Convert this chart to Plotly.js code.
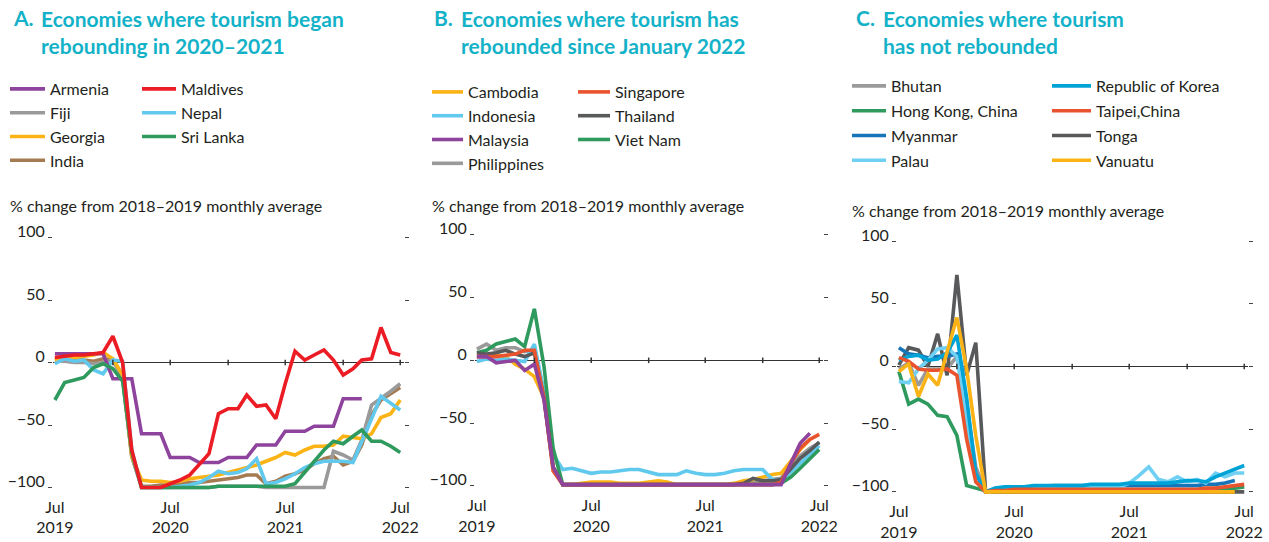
<!DOCTYPE html>
<html><head><meta charset="utf-8">
<script src="https://cdn.plot.ly/plotly-3.0.1.min.js"></script>
<style>html,body{margin:0;padding:0;background:#fff;}#chart{width:1269px;height:542px;}</style>
</head><body><div id="chart"></div>
<script>
// Months: Jul 2019 .. Jul 2022
const months = ["2019-07-01","2019-08-01","2019-09-01","2019-10-01","2019-11-01","2019-12-01",
"2020-01-01","2020-02-01","2020-03-01","2020-04-01","2020-05-01","2020-06-01",
"2020-07-01","2020-08-01","2020-09-01","2020-10-01","2020-11-01","2020-12-01",
"2021-01-01","2021-02-01","2021-03-01","2021-04-01","2021-05-01","2021-06-01",
"2021-07-01","2021-08-01","2021-09-01","2021-10-01","2021-11-01","2021-12-01",
"2022-01-01","2022-02-01","2022-03-01","2022-04-01","2022-05-01","2022-06-01","2022-07-01"];
const tickVals = ["2019-07-01","2020-07-01","2021-07-01","2022-07-01"];
const tickText = ["Jul<br>2019","Jul<br>2020","Jul<br>2021","Jul<br>2022"];
const zeroTickDates = ["2020-01-01","2020-07-01","2021-01-01","2021-07-01","2022-01-01","2022-07-01"];
const yTicks = [-100,-50,0,50,100];
const N = null;

// Panel A
const armenia  = [7,7,7,7,7,7,-13,-13,-13,-57,-57,-57,-76,-76,-76,-80,-80,-80,-76,-76,-76,-66,-66,-66,-55,-55,-55,-51,-51,-51,-29,-29,-29,N,N,N,N];
const fiji     = [1,1,0,0,-1,0,2,-12,-75,-100,-100,-100,-100,-100,-100,-100,-100,-99,-99,-99,-99,-99,-100,-100,-100,-100,-100,-100,-100,-71,-74,-78,-62,-34,-29,-23,-17];
const georgia  = [2,4,4,5,6,8,3,-10,-75,-94,-95,-95,-96,-95,-93,-92,-91,-90,-88,-86,-84,-82,-79,-76,-72,-74,-70,-67,-67,-66,-59,-60,-61,-57,-44,-41,-30];
const india    = [2,3,2,2,1,3,2,-12,-75,-99,-99,-98,-98,-97,-96,-96,-95,-94,-93,-92,-90,-90,-97,-95,-91,-89,-86,-81,-77,-75,-82,-79,-66,-42,-30,-25,-20];
const maldives = [4,5,6,6,7,8,21,0,-70,-100,-100,-100,-97,-94,-90,-82,-73,-41,-37,-37,-26,-35,-34,-45,-17,9,2,6,10,2,-10,-5,2,3,28,8,6];
const nepal    = [-1,3,1,2,-6,-9,2,1,-70,-100,-100,-100,-100,-99,-98,-96,-92,-87,-89,-88,-85,-77,-97,-96,-93,-89,-84,-81,-79,-79,-79,-80,-64,-45,-27,-33,-38];
const sriLanka = [-30,-16,-14,-12,-4,-1,-5,-15,-72,-100,-100,-100,-100,-100,-100,-100,-100,-99,-99,-99,-99,-99,-99,-99,-99,-97,-88,-79,-70,-63,-65,-59,-54,-63,-63,-67,-72];

// Panel B
const cambodia    = [3,3,4,3,-3,-7,-13,-30,-85,-99,-99,-98,-97,-97,-97,-98,-98,-98,-97,-96,-97,-99,-99,-99,-99,-99,-99,-98,-96,-95,-93,-91,-90,-80,-71,-63,N];
const indonesia   = [-1,1,0,1,0,-1,13,-25,-75,-87,-86,-88,-90,-89,-89,-88,-87,-87,-89,-91,-91,-91,-88,-90,-91,-91,-90,-88,-87,-87,-87,-95,-96,-89,-82,-75,-68];
const malaysia    = [3,3,-2,-1,0,-8,-3,-32,-85,-99,-99,-99,-99,-99,-99,-99,-99,-99,-99,-99,-99,-99,-99,-99,-99,-99,-99,-99,-99,-99,-99,-99,-99,-82,-66,-58,N];
const philippines = [9,13,8,10,10,7,8,-28,-85,-99,-99,-99,-99,-99,-99,-99,-99,-99,-99,-99,-99,-99,-99,-99,-99,-99,-99,-99,-98,-97,-96,-95,-94,-84,-76,-70,-66];
const singapore   = [3,3,3,4,5,8,8,-30,-88,-99,-99,-99,-99,-99,-99,-99,-99,-99,-99,-99,-99,-99,-99,-99,-99,-99,-99,-99,-99,-99,-99,-99,-97,-82,-70,-63,-59];
const thailand    = [6,5,6,8,5,3,6,-30,-85,-99,-99,-99,-99,-99,-99,-99,-99,-99,-99,-99,-99,-99,-99,-99,-99,-99,-99,-99,-98,-94,-96,-96,-95,-86,-78,-72,-65];
const vietNam     = [6,8,13,15,17,11,41,-5,-70,-99,-99,-99,-99,-99,-99,-99,-99,-99,-99,-99,-99,-99,-99,-99,-99,-99,-99,-99,-99,-99,-99,-99,-98,-93,-86,-78,-71];

// Panel C
const bhutan   = [-2,3,-15,-2,-2,-2,8,-30,-80,-100,-100,-100,-100,-100,-100,-100,-100,-100,-100,-100,-100,-100,-100,-100,-100,-100,-100,-100,-100,-100,-100,-100,-100,-100,-100,-100,N];
const hongKong = [-4,-30,-26,-30,-39,-40,-55,-95,-97,-99,-100,-100,-100,-100,-100,-100,-100,-100,-100,-100,-100,-100,-100,-100,-100,-100,-100,-100,-100,-100,-100,-100,-100,-99,-98,-97,-96];
const myanmar  = [15,10,9,7,8,8,10,-30,-88,-100,-98,-97,-97,-96,-96,-96,-95,-95,-95,-95,-95,-95,-95,-95,-95,-95,-95,-95,-95,-95,-95,-95,-94,-94,-93,-91,N];
const palau    = [-12,-13,-2,5,14,15,8,-45,-90,-100,-98,-97,-97,-97,-97,-97,-96,-96,-96,-96,-96,-96,-96,-96,-93,-87,-80,-90,-92,-88,-92,-90,-93,-85,-88,-85,-85];
const korea    = [5,8,9,5,6,11,25,-25,-85,-100,-97,-96,-96,-96,-95,-95,-95,-95,-95,-95,-94,-94,-94,-94,-93,-93,-93,-93,-93,-92,-91,-91,-92,-88,-85,-82,-79];
const taipei   = [7,4,-2,-3,-3,-2,-7,-58,-92,-100,-99,-99,-98,-98,-98,-98,-98,-98,-98,-98,-98,-98,-98,-98,-98,-98,-98,-98,-98,-98,-98,-98,-97,-97,-96,-95,-94];
const tonga    = [1,15,13,0,26,-7,73,-7,19,-99,-100,-100,-100,-100,-100,-100,-100,-100,-100,-100,-100,-100,-100,-100,-100,-100,-100,-100,-100,-100,-100,-100,-100,-100,-100,-100,-100];
const vanuatu  = [-4,2,-24,-6,-15,12,39,-2,-55,-100,-100,-100,-100,-100,-100,-100,-100,-100,-100,-100,-100,-100,-100,-100,-100,-100,-100,-100,-100,-100,-100,-100,-100,-100,-100,-100,N];

const C = {purple:"#8e449c", gray:"#9a9a9a", yellow:"#fbb316", brown:"#a57b52", red:"#ec1c24",
  lblue:"#62c9ee", green:"#2f9a5e", orange:"#e9532e", dgray:"#58595b", blue:"#1675b8", cyan:"#00a3d6"};

const panels = [
  {ax:"", leg:["legend","legend2"], series:[
    ["Armenia",armenia,C.purple,0],["Fiji",fiji,C.gray,0],["Georgia",georgia,C.yellow,0],["India",india,C.brown,0],
    ["Maldives",maldives,C.red,1],["Nepal",nepal,C.lblue,1],["Sri Lanka",sriLanka,C.green,1]],
    order:["India","Fiji","Georgia","Nepal","Armenia","Sri Lanka","Maldives"]},
  {ax:"2", leg:["legend3","legend4"], series:[
    ["Cambodia",cambodia,C.yellow,0],["Indonesia",indonesia,C.lblue,0],["Malaysia",malaysia,C.purple,0],["Philippines",philippines,C.gray,0],
    ["Singapore",singapore,C.orange,1],["Thailand",thailand,C.dgray,1],["Viet Nam",vietNam,C.green,1]],
    order:["Philippines","Cambodia","Indonesia","Viet Nam","Thailand","Singapore","Malaysia"]},
  {ax:"3", leg:["legend5","legend6"], series:[
    ["Bhutan",bhutan,C.gray,0],["Hong Kong, China",hongKong,C.green,0],["Myanmar",myanmar,C.blue,0],["Palau",palau,"#6fd0f4",0],
    ["Republic of Korea",korea,C.cyan,1],["Taipei,China",taipei,C.orange,1],["Tonga",tonga,C.dgray,1],["Vanuatu",vanuatu,C.yellow,1]],
    order:["Bhutan","Hong Kong, China","Tonga","Myanmar","Palau","Republic of Korea","Taipei,China","Vanuatu"]}
];

const traces = [];
panels.forEach(p => {
  const legRank = {};
  p.series.forEach((s,k)=>{legRank[s[0]]=k;});
  p.order.forEach(name => {
    const s = p.series[legRank[name]];
    traces.push({type:"scatter", mode:"lines", name:s[0], x:months, y:s[1],
      xaxis:"x"+p.ax, yaxis:"y"+p.ax, legend:p.leg[s[3]], legendrank:legRank[name]+1,
      legendgroup:p.ax+s[0], line:{color:s[2], width:3.6}, connectgaps:false});
  });
});

const W=1269, H=542;
const font = "Lato, 'Open Sans', sans-serif";
const px = v => v/W, py = v => 1 - v/H;
const doms = [
  {x:[53,404], y:[232.5,492.5]},
  {x:[475,823], y:[229.8,490.9]},
  {x:[897,1248], y:[236,496.9]}
];
const layout = {
  width:W, height:H, margin:{l:0,r:0,t:0,b:0}, paper_bgcolor:"#fff", plot_bgcolor:"rgba(0,0,0,0)",
  font:{family:font, color:"#231f20", size:16}, showlegend:true, shapes:[], annotations:[]
};
panels.forEach((p,k) => {
  const d = doms[k];
  layout["xaxis"+p.ax] = {domain:[px(d.x[0]),px(d.x[1])], anchor:"y"+p.ax, type:"date",
    range:["2019-06-25","2022-07-13"], tickvals:tickVals, ticktext:tickText, ticks:"",
    showgrid:false, zeroline:false, showline:false, tickfont:{size:16, family:font, color:"#231f20"}, ticklabelstandoff:3};
  layout["yaxis"+p.ax] = {domain:[py(d.y[1]),py(d.y[0])], anchor:"x"+p.ax, range:[-104,104],
    tickvals:yTicks, ticks:"outside", ticklen:4, tickwidth:1, tickcolor:"#444", mirror:"ticks",
    showgrid:false, showline:false, zeroline:true, zerolinecolor:"#333", zerolinewidth:1.5,
    tickfont:{size:16, family:font, color:"#231f20"}, ticklabelshift:-6, ticklabelstandoff:0};
  zeroTickDates.forEach(t => layout.shapes.push({type:"line", xref:"x"+p.ax, yref:"y"+p.ax,
    x0:t, x1:t, y0:-2.2, y1:2.2, line:{color:"#333", width:1.5}, layer:"above"}));
});

// [left px, top px, itemwidth, grouped-gap]
const legCfg = [[5,72,35,0],[137,72,34,0],[427,75,31,0],[573,75,32,0],[847,69,34,1],[1047,69,39,1]];
const legKeys = ["legend","legend2","legend3","legend4","legend5","legend6"];
legKeys.forEach((key,i) => {
  const c = legCfg[i];
  layout[key] = {x:px(c[0]), y:py(c[1]), xanchor:"left", yanchor:"top",
    orientation:"v", bgcolor:"rgba(0,0,0,0)", borderwidth:0, itemwidth:c[2],
    tracegroupgap: c[3] ? 1 : 0, traceorder: c[3] ? "grouped" : "normal",
    font:{size:16, family:font, color:"#231f20"}, itemclick:false, itemdoubleclick:false};
});

const teal = "#14b2c8";
const titles = [
  {lab:"A.", lx:11, tx:39, text:"Economies where tourism began<br>rebounding in 2020–2021"},
  {lab:"B.", lx:432, tx:459, text:"Economies where tourism has<br>rebounded since January 2022"},
  {lab:"C.", lx:854, tx:881, text:"Economies where tourism<br>has not rebounded"}
];
titles.forEach(t => {
  layout.annotations.push({xref:"paper", yref:"paper", x:px(t.lx), y:py(18), xanchor:"left", yanchor:"middle",
    text:t.lab, showarrow:false, font:{size:21, family:font, color:teal, weight:700}});
  layout.annotations.push({xref:"paper", yref:"paper", x:px(t.tx), y:py(31.5), xanchor:"left", yanchor:"middle",
    text:t.text, align:"left", showarrow:false, font:{size:21, family:font, color:teal, weight:700}});
});
const ytitleX = [8,430,850], ytitleY = [206,205,210];
ytitleX.forEach((x,i) => layout.annotations.push({xref:"paper", yref:"paper", x:px(x), y:py(ytitleY[i]),
  xanchor:"left", yanchor:"middle", text:"% change from 2018–2019 monthly average", showarrow:false,
  font:{size:16, family:font, color:"#231f20"}}));

Plotly.newPlot("chart", traces, layout, {displayModeBar:false, staticPlot:true});
</script></body></html>
